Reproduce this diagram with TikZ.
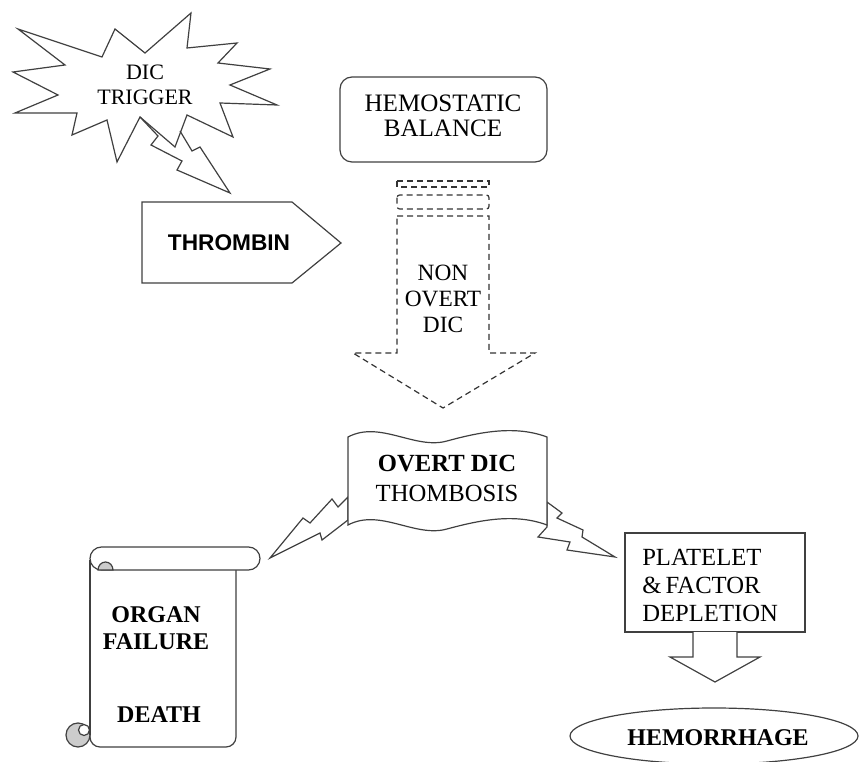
\documentclass[tikz,border=0pt]{standalone}
\usepackage{fontspec}
\setmainfont{Liberation Serif}
\newfontfamily\arialfont{Liberation Sans}
\begin{document}
\begin{tikzpicture}[x=0.75pt,y=-0.75pt,
 shp/.style={draw=black!75, line width=0.9pt, line join=miter},
 dsh/.style={draw=black!80, line width=0.9pt, dash pattern=on 4.5pt off 3pt},
 lbl/.style={inner sep=0pt, align=center, text=black},
]
\useasboundingbox (0,0) rectangle (860,762);

% DIC trigger starburst
\draw[shp, fill=white] (18,29) -- (102,57) -- (115,29) -- (145,53) -- (191,13) -- (187,48) -- (237,43) -- (218,63) -- (270,69) -- (230,85) -- (277,105) -- (220,103) -- (233,137) -- (187,115) -- (175,147) -- (140,117) -- (117,162) -- (107,120) -- (72,135) -- (77,113) -- (15,113) -- (58,95) -- (13,72) -- (65,65) -- cycle;
\draw[shp] (140,117) -- (158,136) -- (151,145) -- (182,161) -- (177,170) -- (230,193) -- (200,147) -- (192,151) -- (180,131);
\node[lbl, font=\fontsize{16.5pt}{18.75pt}\selectfont] (trig) at (145,85) {DIC\\TRIGGER};

% Thrombin
\draw[shp, fill=white] (142,202) -- (292,202) -- (341,243) -- (292,283) -- (142,283) -- cycle;
\node[lbl, font=\arialfont\bfseries\fontsize{17pt}{20pt}\selectfont] (thr) at (229,243) {THROMBIN};

% Hemostatic balance
\draw[shp, rounded corners=9pt] (340,77) rectangle (547,162);
\node[lbl, font=\fontsize{18.8pt}{18.75pt}\selectfont] (hb) at (443,116) {HEMOSTATIC\\BALANCE};

% dashed arrow
\draw[dsh] (397,181) rectangle (489,187);
\draw[dsh, rounded corners=2pt] (397,195) rectangle (489,209);
\draw[dsh] (397,216) -- (489,216) -- (489,353) -- (535,353) -- (443,408) -- (353,353) -- (397,353) -- cycle;
\node[lbl, font=\fontsize{17.5pt}{19.5pt}\selectfont] (non) at (443,299) {NON\\OVERT\\DIC};

% lightning bolts from banner
\draw[shp, fill=white] (348,497) -- (338,507) -- (332,499) -- (310,523) -- (303,518) -- (270,558) -- (320,533) -- (322,540) -- (348,520) -- cycle;
\draw[shp, fill=white] (547,502) -- (562,513) -- (557,518) -- (583,530) -- (582,537) -- (615,557) -- (567,550) -- (570,542) -- (538,537) -- (547,527) -- cycle;

% banner
\draw[shp, fill=white] (348,437) .. controls (380,420) and (415,450) .. (447,441) .. controls (480,432) and (515,425) .. (547,437) -- (547,525) .. controls (515,513) and (480,520) .. (447,529) .. controls (415,538) and (380,508) .. (348,525) -- cycle;
\node[lbl, font=\fontsize{18.5pt}{22.5pt}\selectfont] (overt) at (447,478) {\textbf{OVERT DIC}\\THOMBOSIS};

% scroll
\draw[shp, fill=white, rounded corners=7.5pt] (90,560) -- (90,747) -- (236,747) -- (236,565);
\draw[shp, fill=white, rounded corners=8.6pt] (90,547) rectangle (260,570);
\draw[shp, fill=gray!40] (98,570) arc[start angle=180, end angle=360, x radius=7.5, y radius=8] -- cycle;
\draw[shp, fill=gray!40] (78,735) circle[radius=12];
\draw[shp, fill=white] (84,730) circle[radius=5.5];
\draw[shp] (90,560) -- (90,735);
\node[lbl, font=\bfseries\fontsize{18pt}{20pt}\selectfont] (organ) at (156,628) {ORGAN\\FAILURE};
\node[lbl, font=\bfseries\fontsize{18pt}{20pt}\selectfont] (death) at (159,715) {DEATH};

% platelet box
\draw[shp] (625,533) rectangle (805,632);
\draw[shp, fill=white] (693,632) -- (693,657) -- (670,657) -- (715,682) -- (760,657) -- (737,657) -- (737,632);
\node[lbl, align=left, anchor=west, font=\fontsize{18.5pt}{21pt}\selectfont] (plat) at (642,585) {PLATELET\\\&\,FACTOR\\DEPLETION};

% hemorrhage
\draw[shp] (714,736) ellipse[x radius=144, y radius=28];
\node[lbl, font=\bfseries\fontsize{18pt}{20pt}\selectfont] (hem) at (718,738) {HEMORRHAGE};
\end{tikzpicture}
\end{document}
